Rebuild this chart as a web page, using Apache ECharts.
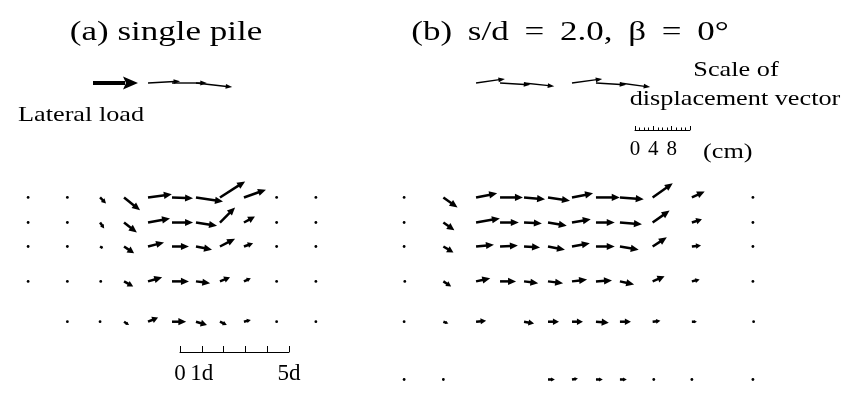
<!DOCTYPE html>
<html><head><meta charset="utf-8">
<script src="https://cdn.jsdelivr.net/npm/echarts@6/dist/echarts.min.js"></script>
<style>html,body{margin:0;padding:0;background:#fff}#c{width:853px;height:395px}</style>
</head><body><div id="c"></div>
<script>
// ---- data ----
// target column positions (in pile diameters d, from panel centre line)
const COLS = [-6.6, -4.8, -3.3, -2.2, -1.1, 0, 1.1, 2.2, 3.3, 4.8, 6.6, 9.4];
// target row depths (in d, from the top (surface) row)
const DEPTHS = [0, 5.25, 6.4, 7.5, 9.1, 10.95, 13.6];
// displacement components (cm): horizontal (+ right) and vertical (+ up); null = no target
const A_DX = [
  [null,null,null,null,7.0,7.6,7.9,null,null,null,null,null],
  [0,0,1.3,3.5,5.2,4.6,5.9,5.5,4.8,0,0,null],
  [0,0,0.9,2.8,4.8,4.6,4.6,3.3,2.4,0,0,null],
  [0,0,0.7,2.2,3.5,3.7,3.5,3.3,2.0,0,0,null],
  [0,0,0.3,2.0,3.1,3.7,3.1,2.2,1.5,0,0,null],
  [null,0,0,1.1,2.2,3.1,2.4,1.5,1.5,0,0,null],
  [null,null,null,null,null,null,null,null,null,null,null,null]
];
const A_DY = [
  [null,null,null,null,0.4,0,-0.9,null,null,null,null,null],
  [0,0,-1.3,-2.8,0.7,-0.2,-0.9,3.5,1.7,0,0,null],
  [0,0,-1.3,-2.2,0.9,0,-0.7,3.3,1.3,0,0,null],
  [0,0,-0.4,-1.5,0.9,0,-0.7,1.7,0.7,0,0,null],
  [0,0,0,-1.1,0.9,0,-0.4,0.9,0.7,0,0,null],
  [null,0,0,-0.7,0.9,0,-0.7,-0.7,0.4,0,0,null],
  [null,null,null,null,null,null,null,null,null,null,null,null]
];
const B_DX = [
  [null,null,6.3,6.6,6.6,null,6.6,6.6,6.6,null,null,null],
  [0,3.1,4.6,5.0,4.6,4.8,4.6,5.2,5.2,4.4,2.8,0],
  [0,2.4,5.2,4.1,3.9,4.1,4.1,4.1,4.8,3.7,2.2,0],
  [0,2.2,3.9,3.9,3.5,3.7,3.9,4.1,4.1,3.1,2.0,0],
  [0.3,1.7,3.1,3.5,3.1,3.3,3.3,3.5,3.1,2.6,1.7,0],
  [0,1.1,2.2,null,2.2,2.4,2.4,2.8,2.4,1.7,1.1,0.3],
  [0,0,null,null,null,1.5,1.3,1.5,1.5,0.5,0,0]
];
const B_DY = [
  [null,null,0.9,-0.4,-0.7,null,0.9,-0.4,-0.9,null,null,null],
  [0,-2.2,0.9,0,-0.4,-0.7,0.9,0,-0.4,3.1,1.3,0],
  [0,-1.7,0.9,0,-0.2,-0.7,0.7,0,-0.4,2.6,0.7,0],
  [0,-1.3,0.4,0.2,-0.2,-0.7,0.7,0,-0.7,2.0,0.2,0],
  [0,-1.1,0.7,0,-0.4,-0.4,0.4,0.2,-0.7,1.1,0.4,0],
  [0,-0.4,0.2,null,-0.4,0,0,-0.2,0,0.2,0,0],
  [0,0,null,null,null,0,0.2,0,0,0,0,0]
];
const PILE_SCALE_LABELS = ['0', '1d', '', '', '', '5d'];   // scale bar 0..5 d
const CM_SCALE_LABELS = ['0', '4', '8', ''];               // scale bar 0..12 cm
const TITLE_A = '(a) single pile';
const TITLE_B = '(b) s/d = 2.0, β = 0°';
const LOAD_TEXT = 'Lateral load';
const SCALE_TEXT_1 = 'Scale of';
const SCALE_TEXT_2 = 'displacement vector';
const CM_UNIT = '(cm)';

// ---- layout ----
const PX_PER_D = 21.8, PX_PER_CM = 4.58, K = PX_PER_CM / PX_PER_D;
const W = 853, H = 395, SPLIT = 426, ORIGIN_A = 172, ORIGIN_B = 548, SURF_Y = 83;
const FONT = "'Liberation Serif','Times New Roman',serif";

function buildData(DX, DY) {
  const out = [];
  DX.forEach((row, r) => row.forEach((dx, c) => {
    if (dx === null) return;
    out.push([COLS[c], DEPTHS[r], dx, DY[r][c], r === 0 ? 1 : 0]);
  }));
  return out;
}

function renderVec(params, api) {
  const x = api.value(0), d = api.value(1), dx = api.value(2), dy = api.value(3), thin = api.value(4);
  const p0 = api.coord([x, d]);
  const p1 = api.coord([x + dx * K, d - dy * K]);
  const vx = p1[0] - p0[0], vy = p1[1] - p0[1];
  const L = Math.hypot(vx, vy);
  if (L < 2.5) {
    return { type: 'circle', shape: { cx: p0[0] + vx / 2, cy: p0[1] + vy / 2, r: 1.4 }, style: { fill: '#000' } };
  }
  const ux = vx / L, uy = vy / L;
  const hl = thin ? Math.min(6.5, L * 0.5) : Math.min(8, L * 0.55);
  const hw = thin ? 2.4 : Math.min(3.6, hl * 0.55);
  const bx = p1[0] - ux * hl, by = p1[1] - uy * hl;
  return {
    type: 'group', children: [
      { type: 'line', shape: { x1: p0[0], y1: p0[1], x2: bx + ux, y2: by + uy }, style: { stroke: '#000', lineWidth: thin ? 1.4 : 2.5 } },
      { type: 'polygon', shape: { points: [[p1[0], p1[1]], [bx - uy * hw, by + ux * hw], [bx + uy * hw, by - ux * hw]] }, style: { fill: '#000' } }
    ]
  };
}

function renderLoad(params, api) {
  const p0 = api.coord([api.value(0), api.value(2)]);
  const p1 = api.coord([api.value(1), api.value(2)]);
  const hl = 15, hw = 6.5;
  return {
    type: 'group', children: [
      { type: 'line', shape: { x1: p0[0], y1: p0[1], x2: p1[0] - hl + 2, y2: p1[1] }, style: { stroke: '#000', lineWidth: 4 } },
      { type: 'polygon', shape: { points: [[p1[0], p1[1]], [p1[0] - hl, p1[1] - hw], [p1[0] - hl + 3, p1[1]], [p1[0] - hl, p1[1] + hw]] }, style: { fill: '#000' } }
    ]
  };
}

const yMin = -SURF_Y / PX_PER_D, yMax = (H - SURF_Y) / PX_PER_D;

function txt(text, x, y, size, align, sx) {
  return { type: 'text', x: x, y: y, scaleX: sx, style: { text: text, font: size + 'px ' + FONT, fill: '#000', textAlign: align, textVerticalAlign: 'middle' } };
}

const option = {
  animation: false,
  backgroundColor: '#fff',
  grid: [
    { left: 0, top: 0, width: SPLIT, height: H },
    { left: SPLIT, top: 0, width: W - SPLIT, height: H },
    { left: 180, top: 340, width: 5 * PX_PER_D, height: 12 },
    { left: 635, top: 118, width: 12 * PX_PER_CM, height: 12 }
  ],
  xAxis: [
    { type: 'value', gridIndex: 0, min: -ORIGIN_A / PX_PER_D, max: (SPLIT - ORIGIN_A) / PX_PER_D, show: false },
    { type: 'value', gridIndex: 1, min: (SPLIT - ORIGIN_B) / PX_PER_D, max: (W - ORIGIN_B) / PX_PER_D, show: false },
    { type: 'value', gridIndex: 2, min: 0, max: 5, interval: 1, splitLine: { show: false },
      axisLine: { lineStyle: { color: '#000', width: 1 } },
      axisTick: { inside: true, length: 6, lineStyle: { color: '#000' } },
      axisLabel: { margin: 10, color: '#000', fontFamily: FONT, fontSize: 23, showMaxLabel: true,
        formatter: v => PILE_SCALE_LABELS[Math.round(v)] } },
    { type: 'value', gridIndex: 3, min: 0, max: 12, interval: 4, splitLine: { show: false },
      axisLine: { lineStyle: { color: '#000', width: 1 } },
      axisTick: { inside: true, length: 4, lineStyle: { color: '#000' } },
      minorTick: { show: true, splitNumber: 4, length: 2.5, lineStyle: { color: '#000' } },
      axisLabel: { margin: 9, color: '#000', fontFamily: FONT, fontSize: 21,
        formatter: v => CM_SCALE_LABELS[Math.round(v / 4)] } }
  ],
  yAxis: [
    { type: 'value', gridIndex: 0, min: yMin, max: yMax, inverse: true, show: false },
    { type: 'value', gridIndex: 1, min: yMin, max: yMax, inverse: true, show: false },
    { type: 'value', gridIndex: 2, show: false },
    { type: 'value', gridIndex: 3, show: false }
  ],
  series: [
    { type: 'custom', xAxisIndex: 0, yAxisIndex: 0, renderItem: renderVec, data: buildData(A_DX, A_DY), silent: true },
    { type: 'custom', xAxisIndex: 1, yAxisIndex: 1, renderItem: renderVec, data: buildData(B_DX, B_DY), silent: true },
    { type: 'custom', xAxisIndex: 0, yAxisIndex: 0, renderItem: renderLoad, data: [[(93 - ORIGIN_A) / PX_PER_D, (138 - ORIGIN_A) / PX_PER_D, 0]], silent: true }
  ],
  graphic: [
    txt(TITLE_A, 166, 33, 28, 'center', 1.25),
    txt(TITLE_B.replace(/ /g, ' \u2009'), 570, 33, 28, 'center', 1.25),
    txt(LOAD_TEXT, 18, 115, 21, 'left', 1.25),
    txt(SCALE_TEXT_1, 736, 70, 21, 'center', 1.25),
    txt(SCALE_TEXT_2, 735, 99, 21, 'center', 1.25),
    txt(CM_UNIT, 703, 152, 21, 'left', 1.25)
  ]
};
const chart = echarts.init(document.getElementById('c'), null, { renderer: 'canvas' });
chart.setOption(option);
</script></body></html>
